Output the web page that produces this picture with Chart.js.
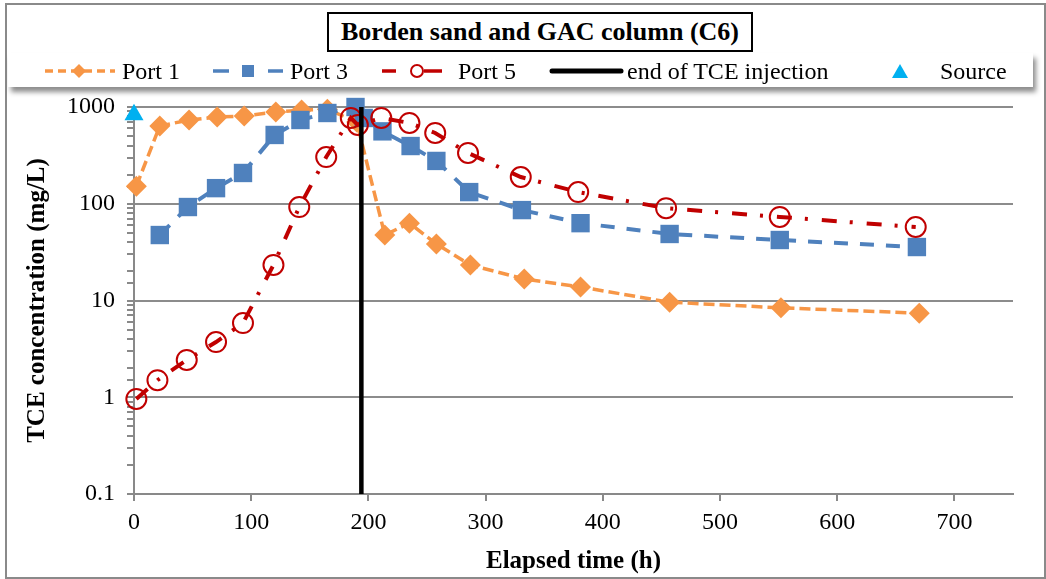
<!DOCTYPE html>
<html>
<head>
<meta charset="utf-8">
<script src="https://cdn.jsdelivr.net/npm/chart.js@4.4.1/dist/chart.umd.min.js"></script>
<style>
  body { margin: 0; background: #fff; }
  #wrap { position: relative; width: 1046px; height: 579px; overflow: hidden; font-family: 'Liberation Serif', 'Times New Roman', serif; }
  #frame { position: absolute; left: 5px; top: 3px; width: 1037px; height: 572px; border: 2px solid #8a8a8a; }
  #chart { position: absolute; left: 0; top: 0; }
  #title { position: absolute; left: 327px; top: 12px; width: 422px; height: 36px; border: 2px solid #000; background: #fff;
    font-weight: bold; font-size: 26px; line-height: 36px; text-align: center; }
  #legend { position: absolute; left: 8px; top: 53px; width: 1025px; height: 34px; background: #fff;
    box-shadow: 3px 5px 5px rgba(0,0,0,0.45); }
  .leg { position: absolute; top: 54px; font-family: 'Liberation Serif', 'Times New Roman', serif; font-size: 24px; line-height: 34px; color: #000; white-space: nowrap; }
  #legicons { position: absolute; left: 0; top: 0; }
</style>
</head>
<body>
<div id="wrap">
  <div id="frame"></div>
  <canvas id="chart" width="1046" height="579"></canvas>
  <div id="title">Borden sand and GAC column (C6)</div>
  <div id="legend"></div>
  <svg id="legicons" width="1046" height="100">
    <line x1="45" y1="71" x2="115" y2="71" stroke="#F79646" stroke-width="3.5" stroke-dasharray="8 5"/>
    <polygon points="79,64 86,71 79,78 72,71" fill="#F79646"/>
    <line x1="213" y1="71" x2="229" y2="71" stroke="#4F81BD" stroke-width="3.5"/>
    <rect x="242" y="65" width="12" height="12" fill="#4F81BD"/>
    <line x1="268" y1="71" x2="283" y2="71" stroke="#4F81BD" stroke-width="3.5"/>
    <line x1="382" y1="71" x2="396" y2="71" stroke="#C00000" stroke-width="3.5"/>
    <circle cx="417" cy="71" r="6" fill="none" stroke="#C00000" stroke-width="2"/>
    <line x1="424" y1="71" x2="442" y2="71" stroke="#C00000" stroke-width="3.5"/>
    <line x1="552" y1="71" x2="621" y2="71" stroke="#000" stroke-width="5" stroke-linecap="round"/>
    <polygon points="900,64 908,78 892,78" fill="#00B0F0"/>
  </svg>
  <span class="leg" style="left:122px">Port 1</span>
  <span class="leg" style="left:290px">Port 3</span>
  <span class="leg" style="left:458px">Port 5</span>
  <span class="leg" style="left:627px">end of TCE injection</span>
  <span class="leg" style="left:940px">Source</span>
</div>
<script>
// values (elapsed time h, TCE mg/L)
const port1Time = [2, 22, 47, 71, 94, 121, 143, 165, 190, 214, 235, 258, 287, 333, 381, 457, 552, 670];
const port1Conc = [152, 637, 734, 788, 807, 888, 930, 950, 700, 47.5, 63, 38.4, 23.3, 16.7, 13.8, 9.6, 8.4, 7.4];

const port3Time = [22, 46, 70, 93, 120, 142, 165, 189, 196, 212, 236, 258, 286, 331, 381, 457, 551, 668];
const port3Conc = [47.5, 92.5, 145, 208, 514, 734, 867, 1000, 770, 560, 395, 277, 132, 86, 63, 48.7, 42.2, 35.7];

const port5Time = [2, 20, 45, 70, 93, 119, 141, 164, 185, 191, 211, 235, 257, 285, 330, 379, 454, 551, 667];
const port5Conc = [0.96, 1.5, 2.43, 3.72, 5.85, 23.3, 92.5, 304, 770, 652, 770, 684, 539, 335, 189, 132, 90, 73, 57.5];

const injectionEnd = 194;
const sourceTime = [0];
const sourceConc = [830];

const xTicks = [0, 100, 200, 300, 400, 500, 600, 700];
const yRange = [0.1, 1000];

const FONT = "'Liberation Serif', 'Times New Roman', serif";
const AXIS_GRAY = '#898989';

function pts(xs, ys) {
  return xs.map((x, i) => ({ x, y: ys[i] }));
}

function isDecade(v) {
  const l = Math.log10(v);
  return Math.abs(l - Math.round(l)) < 1e-6;
}

const ctx = document.getElementById('chart').getContext('2d');
new Chart(ctx, {
  type: 'line',
  data: {
    datasets: [
      {
        label: 'Port 1',
        data: pts(port1Time, port1Conc),
        borderColor: '#F79646',
        backgroundColor: '#F79646',
        borderWidth: 3.5,
        borderDash: [11, 5],
        pointStyle: 'rectRot',
        pointRadius: 10.5,
        pointBorderWidth: 0,
        order: 5,
        clip: false
      },
      {
        label: 'Port 3',
        data: pts(port3Time, port3Conc),
        borderColor: '#4F81BD',
        backgroundColor: '#4F81BD',
        borderWidth: 4,
        borderDash: [14, 12],
        pointStyle: 'rect',
        pointRadius: 13,
        pointBorderWidth: 0,
        order: 4,
        clip: false
      },
      {
        label: 'Port 5',
        data: pts(port5Time, port5Conc),
        borderColor: '#C00000',
        backgroundColor: 'rgba(0,0,0,0)',
        borderWidth: 4,
        borderDash: [15, 13, 3, 14],
        pointStyle: 'circle',
        pointRadius: 10,
        pointBorderWidth: 2,
        pointBorderColor: '#C00000',
        pointBackgroundColor: 'rgba(0,0,0,0)',
        order: 3,
        clip: false
      },
      {
        label: 'end of TCE injection',
        data: pts([injectionEnd, injectionEnd], yRange),
        borderColor: '#000',
        borderWidth: 4.5,
        pointRadius: 0,
        order: 2,
        clip: false
      },
      {
        label: 'Source',
        data: pts(sourceTime, sourceConc),
        showLine: false,
        pointStyle: 'triangle',
        pointRadius: 11,
        pointBorderWidth: 0,
        backgroundColor: '#00B0F0',
        borderColor: '#00B0F0',
        order: 1,
        clip: false
      }
    ]
  },
  options: {
    responsive: false,
    animation: false,
    layout: { padding: { top: 107, right: 33, left: 0, bottom: 0 } },
    plugins: {
      legend: { display: false },
      tooltip: { enabled: false }
    },
    scales: {
      x: {
        type: 'linear',
        min: 0,
        max: 750,
        afterFit: s => { s.height = 85; },
        afterBuildTicks: s => { s.ticks = xTicks.map(v => ({ value: v })); },
        border: { color: AXIS_GRAY, width: 2 },
        grid: { drawOnChartArea: false, tickColor: AXIS_GRAY, tickLength: 7, lineWidth: 2 },
        ticks: { font: { family: FONT, size: 24 }, color: '#000', padding: 7, maxRotation: 0 },
        title: {
          display: true,
          text: 'Elapsed time (h)',
          font: { family: FONT, size: 25, weight: 'bold' },
          color: '#000',
          padding: { bottom: 2, top: 0 }
        }
      },
      y: {
        type: 'logarithmic',
        min: yRange[0],
        max: yRange[1],
        afterFit: s => { s.width = 134; },
        border: { color: AXIS_GRAY, width: 2 },
        grid: {
          color: c => (c.tick && isDecade(c.tick.value)) ? '#8c8c8c' : 'rgba(0,0,0,0)',
          lineWidth: 2,
          tickColor: AXIS_GRAY,
          tickLength: 7
        },
        ticks: {
          autoSkip: false,
          font: { family: FONT, size: 24 },
          color: '#000',
          padding: 12,
          callback: v => isDecade(v) ? String(Number(v.toPrecision(1))) : ''
        },
        title: {
          display: true,
          text: 'TCE concentration (mg/L)',
          font: { family: FONT, size: 25, weight: 'bold' },
          color: '#000',
          padding: { top: 23, bottom: 0 }
        }
      }
    }
  }
});
</script>
</body>
</html>
